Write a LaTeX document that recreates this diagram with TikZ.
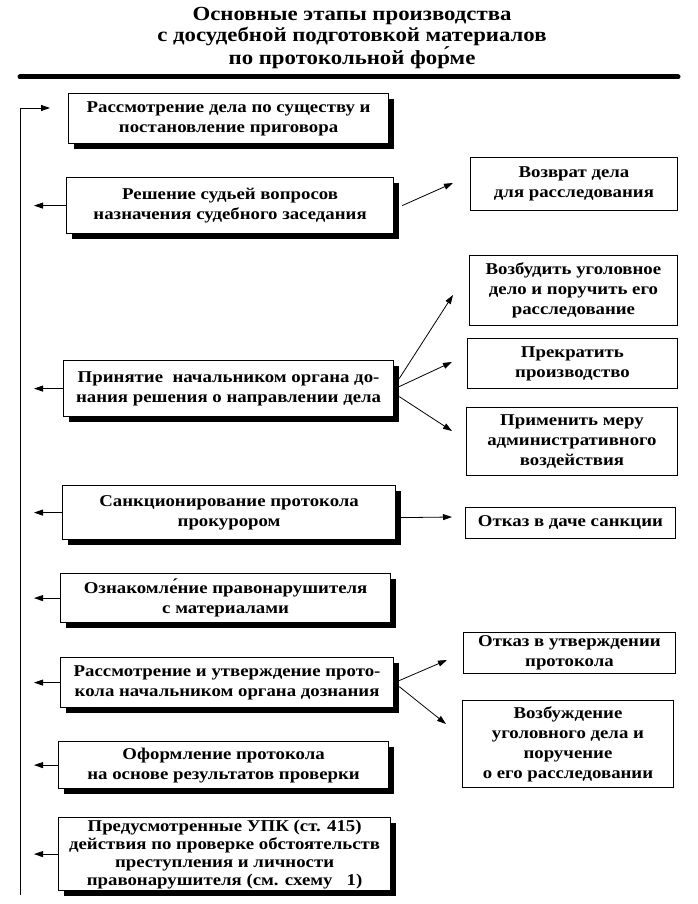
\documentclass[tikz,border=0pt]{standalone}
\usepackage{fontspec}
\setmainfont{Liberation Serif}[FakeStretch=1.14]
\usetikzlibrary{shadows,arrows.meta,calc}
\tikzset{
  mainbox/.style={draw, line width=1.2pt, fill=white, align=center, anchor=north west,
    inner sep=0pt, font=\bfseries\fontsize{16.5}{20}\selectfont,
    drop shadow={shadow xshift=5pt, shadow yshift=-5pt, fill=black, opacity=1}},
  sidebox/.style={draw, line width=0.9pt, fill=white, align=center, anchor=north west,
    inner sep=0pt, font=\bfseries\fontsize{16.5}{20}\selectfont},
  ttl/.style={font=\bfseries\fontsize{20}{21}\selectfont, inner sep=0pt},
  arr/.style={line width=0.8pt, -{Triangle[length=9pt,width=6pt]}},
}
\begin{document}
\begin{tikzpicture}[x=1pt,y=-1pt]
\useasboundingbox (0,0) rectangle (698,904);
% title
\node[ttl] (t1) at (352,16) {Основные этапы производства};
\node[ttl] (t2) at (352,37) {с досудебной подготовкой материалов};
\node[ttl] (t3) at (352,58) {по протокольной фор́ме};
\coordinate (ra) at (20,77);
\coordinate (rb) at (678,77);
\draw[line width=5pt, line cap=round] (ra) -- (rb);
% main boxes
\node[mainbox, minimum width=320, minimum height=50] (b1) at (68,93) {Рассмотрение дела по существу и\\постановление приговора};
\node[mainbox, minimum width=327, minimum height=56] (b2) at (66,177) {Решение судьей вопросов\\назначения судебного заседания};
\node[mainbox, minimum width=330, minimum height=56] (b3) at (63,360) {Принятие\ \ начальником органа до-\\нания решения о направлении дела};
\node[mainbox, minimum width=333, minimum height=54] (b4) at (62,485) {Санкционирование протокола\\прокурором};
\node[mainbox, minimum width=330, minimum height=49] (b5) at (60,573) {Ознакомле́ние правонарушителя\\с материалами};
\node[mainbox, minimum width=333, minimum height=50] (b6) at (60,657) {Рассмотрение и утверждение прото-\\кола начальником органа дознания};
\node[mainbox, minimum width=330, minimum height=47] (b7) at (58,741) {Оформление протокола\\на основе результатов проверки};
\node[mainbox, minimum width=332, minimum height=73, font=\bfseries\fontsize{16.5}{18}\selectfont] (b8) at (58,817) {Предусмотренные УПК (ст. 415)\\действия по проверке обстоятельств\\преступления и личности\\правонарушителя (см. схему\ \ \ 1)};
% side boxes
\node[sidebox, minimum width=207, minimum height=53] (r1) at (470,157) {Возврат дела\\для расследования};
\node[sidebox, minimum width=208, minimum height=70] (r2) at (469,255) {Возбудить уголовное\\дело и поручить его\\расследование};
\node[sidebox, minimum width=210, minimum height=50] (r3) at (467,338) {Прекратить\\производство};
\node[sidebox, minimum width=211, minimum height=68] (r4) at (466,407) {Применить меру\\административного\\воздействия};
\node[sidebox, minimum width=210, minimum height=31] (r5) at (465,507) {Отказ в даче санкции};
\node[sidebox, minimum width=212, minimum height=41] (r6) at (463,632) {Отказ в утверждении\\протокола};
\node[sidebox, minimum width=211, minimum height=87] (r7) at (462,700) {Возбуждение\\уголовного дела и\\поручение\\о его расследовании};
% left feedback line
\coordinate (lx) at (34,0);
\coordinate (vb) at (20,895);
\coordinate (vt) at (50,108);
\draw[arr] (vb) |- (vt);
\foreach \b in {b2,b3,b4,b5,b6,b7,b8} {\draw[arr] (\b.west) -- (\b.west -| lx);}
% right arrows
\coordinate (e2) at (453,183);
\coordinate (e3a) at (453,295);
\coordinate (e3b) at (452,362);
\coordinate (e3c) at (452,431);
\coordinate (e4) at (452,517);
\coordinate (e6a) at (447,660);
\coordinate (e6b) at (446,724);
\draw[arr] ([xshift=8pt]b2.east) -- (e2);
\draw[arr] ([xshift=5pt,yshift=10pt]b3.east) -- (e3a);
\draw[arr] ([xshift=5pt,yshift=2pt]b3.east) -- (e3b);
\draw[arr] ([xshift=5pt,yshift=-8pt]b3.east) -- (e3c);
\draw[arr] ([xshift=5pt,yshift=-5pt]b4.east) -- (e4);
\draw[arr] ([xshift=5pt,yshift=2pt]b6.east) -- (e6a);
\draw[arr] ([xshift=5pt,yshift=-4pt]b6.east) -- (e6b);
\end{tikzpicture}
\end{document}
